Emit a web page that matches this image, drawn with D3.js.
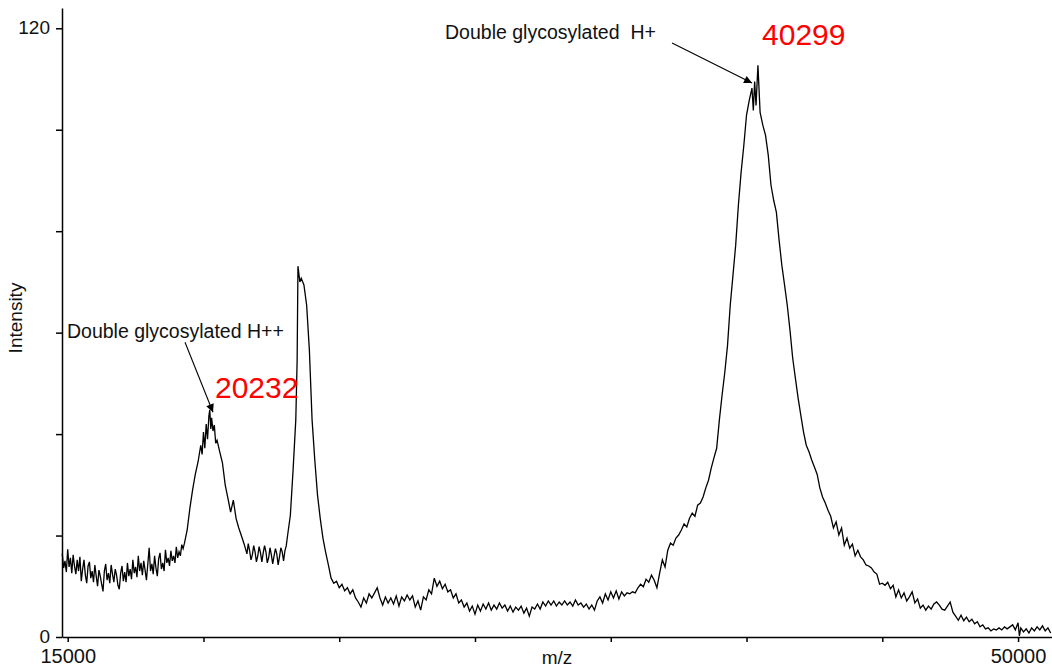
<!DOCTYPE html>
<html>
<head>
<meta charset="utf-8">
<script src="https://cdn.jsdelivr.net/npm/d3@7"></script>
<style>
  body { margin: 0; background: #fff; }
  text { font-family: "Liberation Sans", Arial, sans-serif; }
</style>
</head>
<body>
<div id="chart"></div>
<script>
// spectrum: [m/z, intensity]
var spectrum = [
  [14800,16.4],[14850,13.6],[14900,15.0],[14950,12.8],[15000,17.3],[15050,13.8],[15100,15.6],[15150,12.6],[15200,16.2],[15250,14.0],
  [15300,12.4],[15350,15.2],[15400,13.0],[15450,15.8],[15500,11.0],[15550,13.4],[15600,15.2],[15650,12.2],[15700,10.6],[15750,14.0],
  [15800,14.8],[15850,11.6],[15900,13.0],[15950,10.8],[16000,14.2],[16050,12.0],[16100,10.0],[16150,13.2],[16200,12.0],[16250,10.4],
  [16300,9.0],[16350,13.0],[16400,14.4],[16450,11.2],[16500,12.6],[16550,10.6],[16600,14.2],[16650,12.4],[16700,10.8],[16750,13.4],
  [16800,12.2],[16850,10.2],[16900,9.4],[16950,12.6],[17000,14.0],[17050,11.0],[17100,12.8],[17150,10.8],[17200,14.6],[17250,12.0],
  [17300,13.4],[17350,11.4],[17400,15.2],[17450,12.6],[17500,13.8],[17550,11.8],[17600,16.0],[17650,13.0],[17700,14.6],[17750,12.2],
  [17800,15.0],[17850,13.2],[17900,11.2],[17950,14.4],[18000,17.6],[18050,13.0],[18100,14.4],[18150,12.4],[18200,16.0],[18250,13.6],
  [18300,12.0],[18350,15.4],[18400,16.6],[18450,13.4],[18500,14.6],[18550,13.0],[18600,17.2],[18650,14.6],[18700,15.6],[18750,14.0],
  [18800,17.0],[18850,15.0],[18900,16.0],[18950,14.6],[19000,17.8],[19050,15.6],[19100,16.8],[19150,16.0],[19200,18.2],[19250,17.4],
  [19300,18.5],[19400,21.1],[19500,25.4],[19600,29.0],[19700,32.1],[19800,34.5],[19900,37.8],[19950,36.0],[20000,40.4],[20050,37.2],
  [20100,42.0],[20150,39.0],[20200,43.6],[20232,44.8],[20270,41.0],[20300,43.2],[20350,40.6],[20400,41.8],[20450,38.2],[20500,38.8],
  [20600,36.5],[20700,34.3],[20800,30.0],[20900,27.4],[21000,24.6],[21100,27.0],[21200,23.4],[21300,21.5],[21400,19.9],[21500,18.3],
  [21600,16.4],[21650,18.4],[21700,17.0],[21750,15.2],[21800,16.2],[21850,18.0],[21900,16.8],[21950,14.8],[22000,16.0],[22050,17.8],
  [22100,16.6],[22150,14.8],[22200,16.6],[22250,18.0],[22300,16.8],[22350,14.6],[22400,15.6],[22450,17.6],[22500,16.2],[22550,14.4],
  [22600,16.0],[22650,17.4],[22700,16.4],[22750,14.2],[22800,15.8],[22850,17.6],[22900,16.8],[22950,15.0],[23000,17.0],[23050,18.0],
  [23100,20.1],[23200,24.0],[23300,32.9],[23400,42.8],[23450,54.6],[23480,73.1],[23550,70.0],[23600,70.7],[23700,69.4],[23800,65.4],
  [23900,56.6],[24000,42.8],[24100,34.9],[24200,28.0],[24300,23.4],[24400,19.5],[24500,16.7],[24600,14.2],[24700,11.6],[24800,10.6],
  [24900,11.0],[25000,9.7],[25100,10.4],[25200,9.1],[25300,9.7],[25400,8.5],[25500,9.3],[25600,7.7],[25700,6.9],[25800,5.9],
  [25900,7.7],[26000,6.7],[26100,8.5],[26200,7.7],[26300,8.7],[26400,9.7],[26500,7.7],[26600,6.3],[26700,7.9],[26800,6.7],
  [26900,7.7],[27000,6.5],[27100,8.1],[27200,6.1],[27300,7.9],[27400,7.1],[27500,8.3],[27600,7.3],[27700,8.1],[27800,5.9],
  [27900,7.1],[28000,5.3],[28100,7.9],[28200,7.3],[28300,9.3],[28400,8.5],[28500,11.6],[28600,10.0],[28700,11.0],[28800,9.5],
  [28900,10.4],[29000,8.9],[29100,9.3],[29200,7.7],[29300,8.5],[29400,6.7],[29500,7.3],[29600,5.9],[29700,6.7],[29800,5.1],
  [29900,6.1],[30000,4.5],[30100,6.3],[30200,5.1],[30300,6.5],[30400,5.5],[30500,6.7],[30600,5.3],[30700,6.3],[30800,5.5],
  [30900,6.7],[31000,5.7],[31100,6.3],[31200,5.1],[31300,6.1],[31400,4.9],[31500,5.9],[31600,5.3],[31700,6.1],[31800,4.7],
  [31900,5.7],[32000,4.1],[32100,5.9],[32200,5.5],[32300,6.5],[32400,5.5],[32500,6.9],[32600,6.1],[32700,7.1],[32800,6.3],
  [32900,7.1],[33000,6.1],[33100,6.9],[33200,6.3],[33300,7.1],[33400,6.3],[33500,6.9],[33600,6.1],[33700,7.3],[33800,6.3],
  [33900,6.7],[34000,5.9],[34100,6.5],[34200,5.5],[34300,6.3],[34400,5.3],[34500,7.1],[34600,7.9],[34700,6.7],[34800,8.5],
  [34900,7.3],[35000,8.9],[35100,7.7],[35200,9.1],[35300,7.5],[35400,8.9],[35500,8.1],[35600,8.7],[35700,8.5],[35800,8.9],
  [35900,8.7],[36000,9.7],[36100,10.4],[36200,9.9],[36300,11.4],[36400,10.8],[36500,12.2],[36600,11.2],[36700,9.7],[36800,12.6],
  [36900,15.2],[37000,13.8],[37100,17.1],[37200,18.5],[37300,18.1],[37400,19.5],[37500,20.1],[37600,21.1],[37700,22.3],[37800,21.7],
  [37900,23.4],[38000,24.4],[38100,23.8],[38200,26.0],[38300,26.4],[38400,27.6],[38500,29.4],[38600,30.9],[38700,33.3],[38800,35.3],
  [38900,37.2],[39000,42.8],[39100,47.7],[39200,52.2],[39300,57.5],[39400,65.4],[39500,71.3],[39600,77.2],[39700,85.1],[39800,91.6],
  [39900,96.9],[40000,102.9],[40100,105.8],[40200,108.2],[40250,103.8],[40299,109.5],[40350,104.8],[40420,112.7],[40500,103.4],[40600,100.9],
  [40700,98.9],[40800,95.0],[40900,89.1],[41000,86.1],[41100,83.7],[41200,78.2],[41300,73.3],[41400,69.4],[41500,65.4],[41600,60.5],
  [41700,55.0],[41800,51.0],[41900,47.1],[42000,43.7],[42100,40.4],[42200,37.8],[42300,36.5],[42400,34.9],[42500,33.5],[42600,32.1],
  [42700,29.4],[42800,27.6],[42900,26.4],[43000,25.0],[43100,23.8],[43200,21.5],[43300,22.7],[43400,20.1],[43500,21.5],[43600,18.1],
  [43700,19.5],[43800,17.5],[43900,18.3],[44000,16.0],[44100,17.1],[44200,15.8],[44300,15.2],[44400,14.2],[44500,14.0],[44600,13.6],
  [44700,12.8],[44800,12.4],[44900,10.4],[45000,10.6],[45100,10.2],[45200,10.8],[45300,9.5],[45400,10.2],[45500,7.9],[45600,9.3],
  [45700,7.7],[45800,8.7],[45900,7.1],[46000,7.9],[46100,8.9],[46200,6.7],[46300,7.5],[46400,5.7],[46500,6.3],[46600,5.3],
  [46700,6.1],[46800,5.5],[46900,6.5],[47000,6.9],[47100,6.3],[47200,5.5],[47300,5.3],[47400,6.1],[47500,6.9],[47600,4.9],
  [47700,4.1],[47800,3.3],[47900,4.3],[48000,3.2],[48100,3.9],[48200,3.0],[48300,3.5],[48400,2.6],[48500,3.0],[48600,2.0],
  [48700,2.4],[48800,1.6],[48900,1.8],[49000,1.2],[49100,1.6],[49200,1.4],[49300,1.8],[49400,1.4],[49500,2.0],[49600,1.6],
  [49700,2.0],[49800,2.4],[49900,1.4],[50000,2.8],[50050,0.2],[50100,1.8],[50200,1.0],[50300,1.6],[50400,0.8],[50500,1.8],
  [50600,1.2],[50700,2.0],[50800,1.4],[50900,2.2],[51000,1.2],[51100,1.8],[51200,0.8]
];

var xTicks = [15000, 20000, 25000, 30000, 35000, 40000, 45000, 50000];
var xTickLabels = [15000, 50000];
var yTicks = [0, 20, 40, 60, 80, 100, 120];
var yTickLabels = [0, 120];

// peak callouts: where the arrow points, name and m/z label
var peakNames = ["Double glycosylated H++", "Double glycosylated  H+"];
var peakLabels = ["20232", "40299"];
var arrowTips = [[20351, 44.3], [40203, 109.2]];

var width = 1052, height = 671;
var margin = {top: 8, right: 0, bottom: 34, left: 62};

var svg = d3.select("#chart")
  .append("svg")
  .attr("width", width)
  .attr("height", height);

var x = d3.scaleLinear()
  .domain([14790, 51250])
  .range([margin.left, width - margin.right]);

var y = d3.scaleLinear()
  .domain([0, 124])
  .range([height - margin.bottom, margin.top]);

// arrow head
svg.append("defs").append("marker")
  .attr("id", "head")
  .attr("viewBox", "0 0 10 10")
  .attr("refX", 10).attr("refY", 5)
  .attr("markerWidth", 11).attr("markerHeight", 8)
  .attr("markerUnits", "userSpaceOnUse")
  .attr("orient", "auto")
  .append("path")
  .attr("d", "M0,0L10,5L0,10z")
  .attr("fill", "#000");

// the trace
var line = d3.line()
  .x(function(d) { return x(d[0]); })
  .y(function(d) { return y(d[1]); });

svg.append("path")
  .datum(spectrum)
  .attr("fill", "none")
  .attr("stroke", "#000")
  .attr("stroke-width", 1.3)
  .attr("stroke-linejoin", "miter")
  .attr("d", line);

// axes
var xAxis = d3.axisBottom(x)
  .tickValues(xTicks)
  .tickSize(5)
  .tickSizeOuter(0)
  .tickFormat(function(d) { return xTickLabels.indexOf(d) >= 0 ? d : ""; });

var yAxis = d3.axisLeft(y)
  .tickValues(yTicks)
  .tickSize(6)
  .tickSizeOuter(0)
  .tickFormat(function(d) { return yTickLabels.indexOf(d) >= 0 ? d : ""; });

var gx = svg.append("g")
  .attr("transform", "translate(0," + (height - margin.bottom) + ")")
  .call(xAxis);
gx.selectAll("text")
  .attr("y", 12)
  .attr("font-size", "20px")
  .attr("fill", "#111");

var gy = svg.append("g")
  .attr("transform", "translate(" + margin.left + ",0)")
  .call(yAxis);
gy.selectAll("text")
  .attr("x", -12)
  .attr("dy", "0.3em")
  .attr("font-size", "19px")
  .attr("fill", "#111");

svg.selectAll(".domain, .tick line")
  .attr("stroke", "#000")
  .attr("stroke-width", 1.5);

svg.append("text")
  .attr("x", 557).attr("y", 664)
  .attr("text-anchor", "middle")
  .attr("font-size", "19px")
  .attr("fill", "#111")
  .text("m/z");

svg.append("text")
  .attr("transform", "translate(22,318) rotate(-90)")
  .attr("text-anchor", "middle")
  .attr("font-size", "19px")
  .attr("fill", "#111")
  .text("Intensity");

// callouts, offsets from the arrow tip
var tail = [[-28, -70], [-80, -40]];
var nameAt = [[-146, -74], [-307, -44]];
var labelAt = [[2, -14], [10, -38]];

arrowTips.forEach(function(t, i) {
  var tx = x(t[0]), ty = y(t[1]);
  svg.append("line")
    .attr("x1", tx + tail[i][0]).attr("y1", ty + tail[i][1])
    .attr("x2", tx).attr("y2", ty)
    .attr("stroke", "#000")
    .attr("stroke-width", 1.1)
    .attr("marker-end", "url(#head)");
  svg.append("text")
    .attr("x", tx + nameAt[i][0]).attr("y", ty + nameAt[i][1])
    .attr("font-size", "19.5px")
    .attr("fill", "#111")
    .style("white-space", "pre")
    .text(peakNames[i]);
  svg.append("text")
    .attr("x", tx + labelAt[i][0]).attr("y", ty + labelAt[i][1])
    .attr("font-size", "30px")
    .attr("fill", "#ff0000")
    .text(peakLabels[i]);
});
</script>
</body>
</html>
